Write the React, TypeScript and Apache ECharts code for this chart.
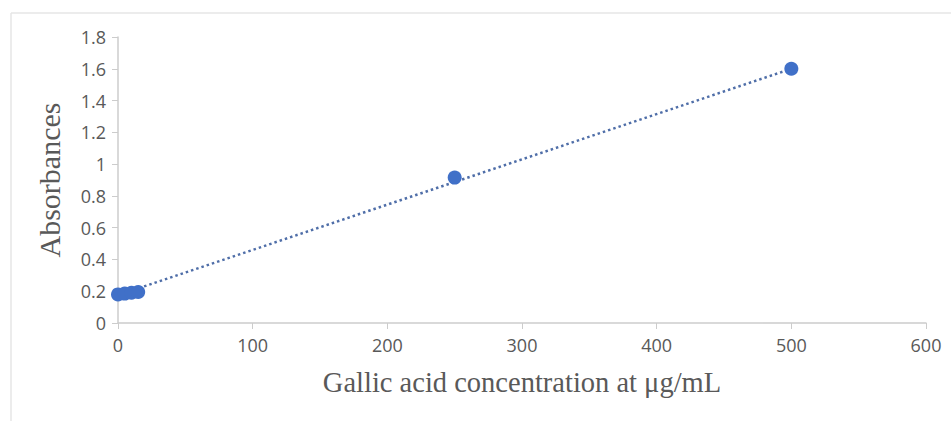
import React, { useEffect, useRef } from "react";
import * as echarts from "echarts";

const concentrations = [0, 5, 10, 15, 250, 500];
const absorbances = [0.18, 0.185, 0.19, 0.195, 0.915, 1.6];
const trendX = [0, 500];
const trendY = [0.175, 1.6];
const xTitle = "Gallic acid concentration at μg/mL";
const yTitle = "Absorbances";

export default function App() {
  const ref = useRef<HTMLDivElement>(null);
  useEffect(() => {
    if (!ref.current) return;
    const chart = echarts.init(ref.current, null, { renderer: "svg" });
    const points = concentrations.map((x, i) => [x, absorbances[i]]);
    const trend = trendX.map((x, i) => [x, trendY[i]]);
    chart.setOption({
      animation: false,
      backgroundColor: "#ffffff",
      grid: { left: 118, right: 25, top: 37, bottom: 98 },
      xAxis: {
        type: "value",
        min: 0,
        max: 600,
        interval: 100,
        name: xTitle,
        nameLocation: "middle",
        nameGap: 45,
        nameTextStyle: { fontFamily: "Liberation Serif", fontSize: 28.5, color: "#595959" },
        axisLine: { show: true, lineStyle: { color: "#cccccc", width: 1.5 } },
        axisTick: { show: true, length: 6, lineStyle: { color: "#cccccc" } },
        axisLabel: { fontFamily: "Open Sans", fontSize: 18, color: "#595959", margin: 13 },
        splitLine: { show: false },
      },
      yAxis: {
        type: "value",
        min: 0,
        max: 1.8,
        interval: 0.2,
        name: yTitle,
        nameLocation: "middle",
        nameGap: 54,
        nameTextStyle: { fontFamily: "Liberation Serif", fontSize: 30, color: "#595959" },
        axisLine: { show: true, lineStyle: { color: "#cccccc", width: 1.5 } },
        axisTick: { show: true, length: 6, lineStyle: { color: "#cccccc" } },
        axisLabel: {
          fontFamily: "Open Sans",
          fontSize: 18,
          color: "#595959",
          margin: 12,
          formatter: (v: number) => String(Math.round(v * 10) / 10),
        },
        splitLine: { show: false },
      },
      series: [
        {
          type: "line",
          data: trend,
          symbol: "none",
          lineStyle: { color: "#4f6ea8", width: 2.5, type: [2.5, 3] },
          z: 1,
        },
        {
          type: "scatter",
          data: points,
          symbolSize: 14,
          itemStyle: { color: "#4070C8", opacity: 1 },
          z: 2,
        },
      ],
      graphic: [
        { type: "line", shape: { x1: 11, y1: 13, x2: 951, y2: 13 }, style: { stroke: "#e6e6e6", lineWidth: 1.5 } },
        { type: "line", shape: { x1: 11, y1: 13, x2: 11, y2: 421 }, style: { stroke: "#e6e6e6", lineWidth: 1.5 } },
      ],
    });
    return () => chart.dispose();
  }, []);
  return (
    <div
      ref={ref}
      style={{ position: "fixed", left: 0, top: 0, width: 951, height: 421 }}
    />
  );
}
